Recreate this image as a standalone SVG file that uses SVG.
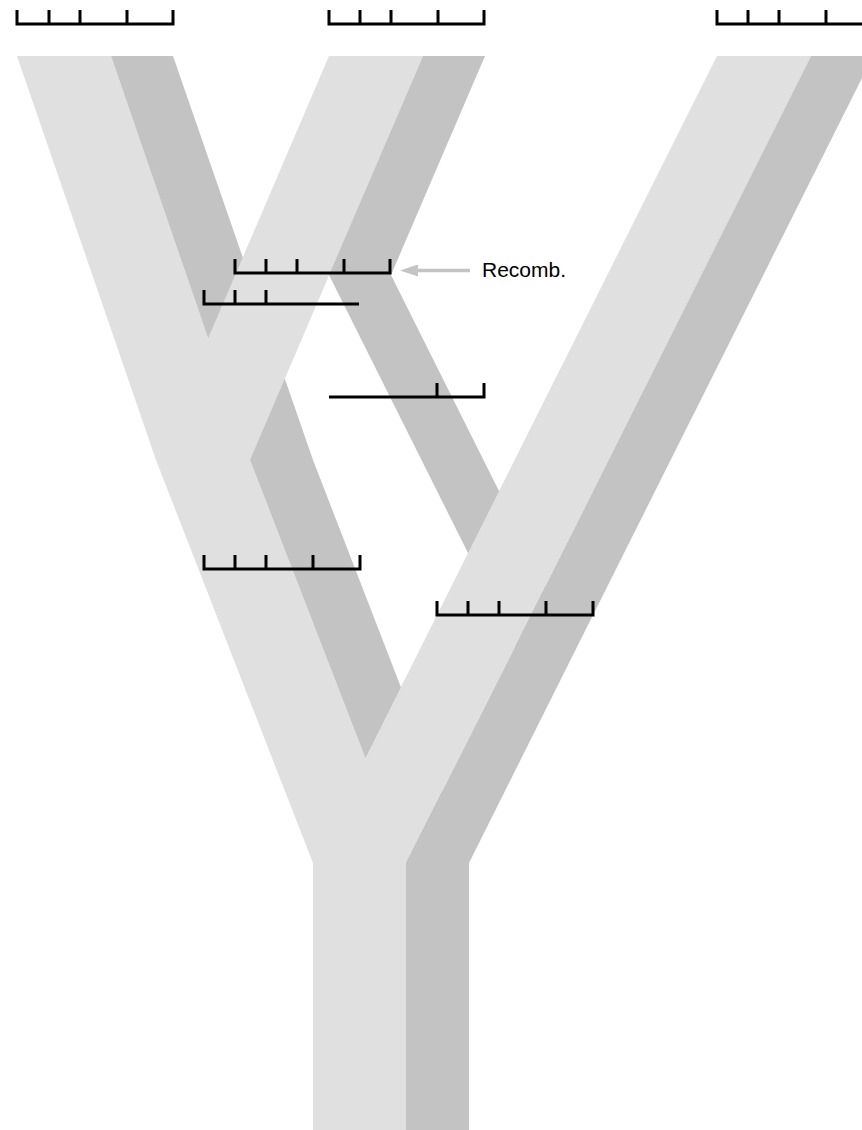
<svg xmlns="http://www.w3.org/2000/svg" width="862" height="1130" viewBox="0 0 862 1130">
<style>
.lt{fill:#e0e0e0}
.dk{fill:#c3c3c3}
.seg{fill:none;stroke:#000;stroke-width:3;stroke-linejoin:miter;stroke-linecap:butt}
.lbl{font-family:"Liberation Sans",Arial,sans-serif;font-size:21px;fill:#000}
</style>
<defs>
<marker id="ah" markerUnits="userSpaceOnUse" viewBox="0 0 18 12" refX="8" refY="6" markerWidth="18" markerHeight="12" orient="auto">
<path d="M0,0 L18,6 L0,12 z" fill="#c4c4c4"/>
</marker>
</defs>
<rect width="862" height="1130" fill="#fff"/>
<g id="lineage-A">
<polygon class="lt" points="17,56 111,56 250,460 156,460"/>
<polygon class="dk" points="111,56 173,56 313,460 250,460"/>
</g>
<g id="lineage-B">
<polygon class="lt" points="329,56 423,56 250,460 156,460"/>
<polygon class="dk" points="423,56 485,56 391,275 329,275"/>
</g>
<g id="lineage-B-right">
<polygon class="dk" points="329,275 391,275 577,647 515,647"/>
</g>
<g id="lineage-C">
<polygon class="lt" points="717,56 811,56 515,647 421,647"/>
<polygon class="dk" points="811,56 873,56 577,647 515,647"/>
</g>
<g id="lineage-AB">
<polygon class="lt" points="156,460 250,460 406,863 313,863"/>
<polygon class="dk" points="250,460 313,460 469,863 406,863"/>
</g>
<g id="lineage-BC">
<polygon class="lt" points="421,647 515,647 406,863 313,863"/>
<polygon class="dk" points="515,647 577,647 469,863 406,863"/>
</g>
<g id="trunk">
<polygon class="lt" points="313,863 406,863 406,1130 313,1130"/>
<polygon class="dk" points="406,863 469,863 469,1130 406,1130"/>
</g>
<g id="segments">
<path class="seg" d="M17,10 V24 H173 V10 M49,10 V24 M80,10 V24 M127,10 V24"/>
<path class="seg" d="M329,10 V24 H484 V10 M360,10 V24 M391,10 V24 M438,10 V24"/>
<path class="seg" d="M717,10 V24 H873 V10 M748,10 V24 M779,10 V24 M826,10 V24"/>
<path class="seg" d="M235,259 V273 H390 V259 M266,259 V273 M297,259 V273 M344,259 V273"/>
<path class="seg" d="M204,290 V304 H359 M235,290 V304 M266,290 V304"/>
<path class="seg" d="M329,397 H484 V383 M437,383 V397"/>
<path class="seg" d="M204,555 V569 H360 V555 M235,555 V569 M266,555 V569 M313,555 V569"/>
<path class="seg" d="M437,601 V615 H593 V601 M468,601 V615 M499,601 V615 M546,601 V615"/>
</g>
<g id="connectors">
<line x1="470" y1="270.5" x2="410" y2="270.5" stroke="#c4c4c4" stroke-width="3.5" marker-end="url(#ah)"/>
</g>
<g id="label">
<text class="lbl" x="482" y="277">Recomb.</text>
</g>
</svg>
